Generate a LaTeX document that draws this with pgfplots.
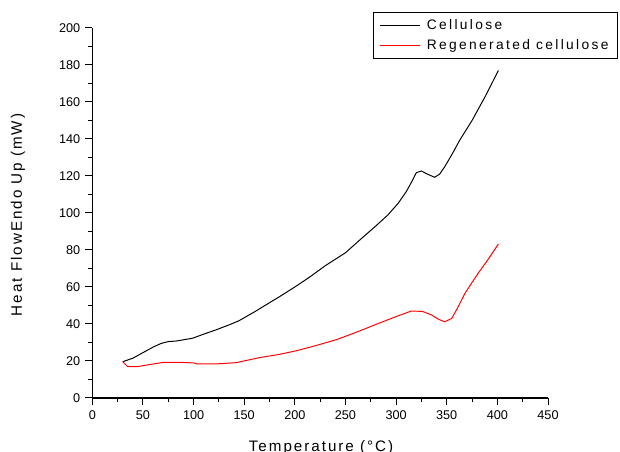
\documentclass[border=0pt]{standalone}
\usepackage{fontspec}
\setmainfont{Liberation Sans}
\newfontfamily\spaced[LetterSpace=13]{Liberation Sans}
\newfontfamily\legspaced[LetterSpace=17]{Liberation Sans}
\usepackage{pgfplots}
\pgfplotsset{compat=1.18}

\begin{document}
\begin{tikzpicture}[x=0.025cm,y=0.025cm]
% page = 620 x 452 px at 0.025cm/px
\useasboundingbox (0,0) rectangle (620,452);
\begin{axis}[
  at={(92.3*0.025cm,54*0.025cm)}, anchor=south west,
  scale only axis,
  width=455.7*0.025cm, height=370*0.025cm,
  xmin=0, xmax=450, ymin=0, ymax=200,
  xtick={0,50,...,450}, ytick={0,20,...,200},
  minor x tick num=1, minor y tick num=1,
  axis x line=bottom, axis y line=left,
  axis line style={-, line width=0.8pt},
  tick align=outside,
  major tick length=0.18cm, minor tick length=0.1cm,
  tick style={black, line width=0.7pt},
  tick label style={font=\fontsize{9}{10}\selectfont},
  /pgf/number format/assume math mode=true,
  xlabel={Temperature (°C)},
  ylabel={Heat FlowEndo Up (mW)},
  label style={font=\spaced\fontsize{10.8}{12}\selectfont},
  xlabel style={at={(axis description cs:0.502,0)}, anchor=base, yshift=-1.33cm},
  ylabel style={at={(axis description cs:-0.163,0.495)}, anchor=center},
  clip=false,
  legend style={at={(axis description cs:0.616,1.043)}, anchor=north west,
    draw=black, line width=0.6pt,
    font=\legspaced\fontsize{9.8}{11}\selectfont,
    legend cell align=left, inner xsep=4pt, inner ysep=2.8pt,
    row sep=2pt,
    /tikz/every odd column/.append style={column sep=0.1cm}},
  legend image code/.code={\draw[#1, line width=0.7pt] (0cm,0cm) -- (1cm,0cm);},
]
\addplot[black, line width=0.7pt] coordinates {
  (30,19.6) (40,21.5) (50,24.5) (60,27.5) (68,29.5) (75,30.5) (83,30.8)
  (99,32.3) (110,34.5) (122,36.8) (135,39.5) (145,41.8) (160,46.5)
  (175,51.5) (185,54.8) (200,60) (215,65.5) (230,71.5) (250,78.5)
  (266,86.3) (280,93) (292,99) (302,105.2) (310,111.5) (316,117.5)
  (320,121.8) (325,122.7) (331,121) (338,119.3) (343,121) (348,125)
  (355,131.5) (363,139.5) (375,150) (388,163) (401,177)
};
\addplot[red, line width=0.7pt] coordinates {
  (30,19.6) (35,16.9) (45,17) (58,18.2) (71,19.3) (90,19.2) (101,18.9)
  (103,18.4) (122,18.4) (142,19.1) (165,21.8) (185,23.6) (202,25.6)
  (220,28.2) (242,31.7) (262,35.8) (283,40.4) (300,44) (315,47)
  (326,46.8) (335,44.9) (342,42.5) (348,41.2) (355,43) (361,49)
  (368,56.6) (381,67.4) (391,75) (401,83.2)
};
\legend{Cellulose, Regenerated cellulose}
\end{axis}
\end{tikzpicture}
\end{document}
